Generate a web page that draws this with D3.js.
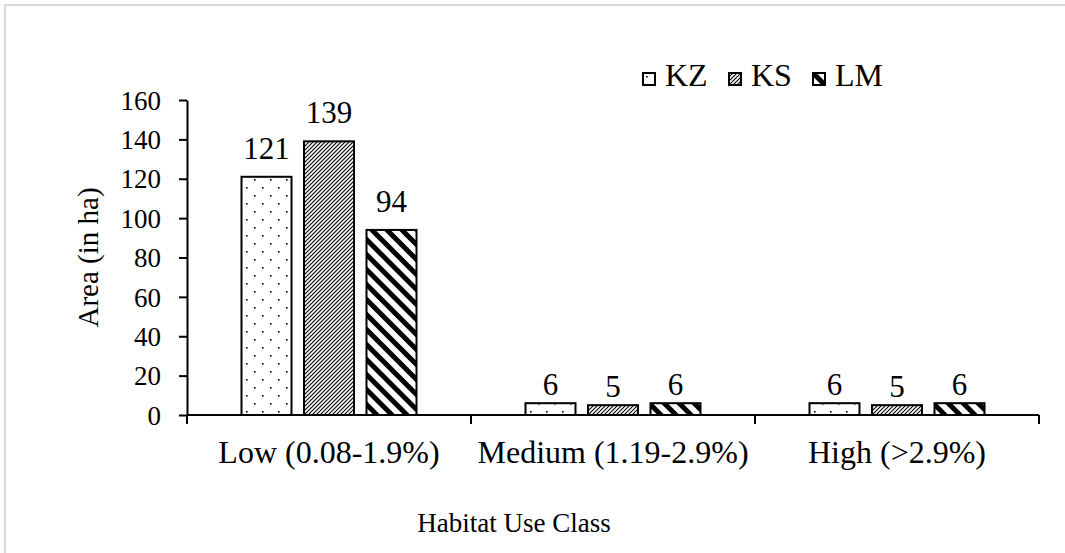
<!DOCTYPE html>
<html>
<head>
<meta charset="utf-8">
<script src="https://cdn.jsdelivr.net/npm/d3@7"></script>
<style>
  html, body { margin: 0; padding: 0; background: #fff; }
  svg { display: block; }
  svg text { font-family: "Liberation Serif", "DejaVu Serif", serif; fill: #000; }
</style>
</head>
<body>
<svg id="chart" width="1065" height="553"></svg>
<script>
// Habitat use classes and area (ha) per site
const categories = ["Low (0.08-1.9%)", "Medium (1.19-2.9%)", "High (>2.9%)"];
const seriesNames = ["KZ", "KS", "LM"];
const valuesKZ = [121, 6, 6];
const valuesKS = [139, 5, 5];
const valuesLM = [94, 6, 6];
const yTicks = [0, 20, 40, 60, 80, 100, 120, 140, 160];

const seriesValues = [valuesKZ, valuesKS, valuesLM];
const W = 1065, H = 553;
const margin = { left: 187, right: 26, top: 100, bottom: 138 };
const FONT = "'Liberation Serif', 'DejaVu Serif', serif";

const svg = d3.select("#chart");

// outer frame
svg.append("rect")
  .attr("x", 5).attr("y", 5)
  .attr("width", W + 10).attr("height", H + 10)
  .attr("fill", "#fff")
  .attr("stroke", "#d9d9d9").attr("stroke-width", 2);

// fill patterns for the three series
const defs = svg.append("defs");
const pDots = defs.append("pattern").attr("id", "pat-KZ")
  .attr("patternUnits", "userSpaceOnUse").attr("width", 16).attr("height", 16);
pDots.append("rect").attr("width", 16).attr("height", 16).attr("fill", "#fff");
pDots.append("rect").attr("x", 3).attr("y", 3).attr("width", 1.6).attr("height", 1.6).attr("fill", "#000");
pDots.append("rect").attr("x", 11).attr("y", 11).attr("width", 1.6).attr("height", 1.6).attr("fill", "#000");

const pUp = defs.append("pattern").attr("id", "pat-KS")
  .attr("patternUnits", "userSpaceOnUse").attr("width", 4).attr("height", 4);
pUp.append("rect").attr("width", 4).attr("height", 4).attr("fill", "#fff");
pUp.append("path").attr("d", "M-1,1 L1,-1 M0,4 L4,0 M3,5 L5,3")
  .attr("stroke", "#000").attr("stroke-width", 1.1);

const pDown = defs.append("pattern").attr("id", "pat-LM")
  .attr("patternUnits", "userSpaceOnUse").attr("width", 15).attr("height", 15);
pDown.append("rect").attr("width", 15).attr("height", 15).attr("fill", "#fff");
pDown.append("path").attr("d", "M-4,-4 L19,19 M-4,11 L4,19 M11,-4 L19,4")
  .attr("stroke", "#000").attr("stroke-width", 5);

const x0 = d3.scaleBand().domain(categories)
  .range([margin.left, W - margin.right]);
const x1 = d3.scaleBand().domain(seriesNames)
  .range([0, x0.bandwidth()]).paddingInner(0.2).paddingOuter(0.872);
const y = d3.scaleLinear().domain([0, 160])
  .range([H - margin.bottom, margin.top]);

// bars
const groups = svg.append("g").selectAll("g")
  .data(categories).join("g")
  .attr("transform", d => `translate(${x0(d)},0)`);

groups.selectAll("rect")
  .data((c, ci) => seriesNames.map((s, si) => ({ s, v: seriesValues[si][ci] })))
  .join("rect")
  .attr("x", d => x1(d.s))
  .attr("y", d => y(d.v))
  .attr("width", x1.bandwidth())
  .attr("height", d => y(0) - y(d.v))
  .attr("fill", d => `url(#pat-${d.s})`)
  .attr("stroke", "#000").attr("stroke-width", 2);

// value labels
groups.selectAll("text.val")
  .data((c, ci) => seriesNames.map((s, si) => ({ s, v: seriesValues[si][ci] })))
  .join("text").attr("class", "val")
  .attr("x", d => x1(d.s) + x1.bandwidth() / 2)
  .attr("y", d => y(d.v) - (d.v > 50 ? 18 : 8))
  .attr("text-anchor", "middle")
  .style("font-family", FONT).style("font-size", "31px")
  .text(d => d.v);

// y axis
const yAxis = svg.append("g")
  .attr("transform", `translate(${margin.left},0)`)
  .call(d3.axisLeft(y).tickValues(yTicks).tickSize(8).tickPadding(18).tickSizeOuter(0));
yAxis.attr("font-family", null).attr("font-size", null);
yAxis.select(".domain").attr("stroke", "#000").attr("stroke-width", 2);
yAxis.selectAll(".tick line").attr("stroke", "#000").attr("stroke-width", 2);
yAxis.selectAll(".tick text")
  .style("font-family", FONT).style("font-size", "27px")
  .attr("dy", "0.34em");

// x axis: baseline with ticks at category boundaries
const xg = svg.append("g");
xg.append("line")
  .attr("x1", margin.left).attr("x2", W - margin.right)
  .attr("y1", y(0)).attr("y2", y(0))
  .attr("stroke", "#000").attr("stroke-width", 2);
const bounds = categories.map(c => x0(c)).concat([x0(categories[categories.length - 1]) + x0.bandwidth()]);
xg.selectAll("line.tk").data(bounds).join("line").attr("class", "tk")
  .attr("x1", d => d).attr("x2", d => d)
  .attr("y1", y(0)).attr("y2", y(0) + 9)
  .attr("stroke", "#000").attr("stroke-width", 2);
xg.selectAll("text").data(categories).join("text")
  .attr("x", d => x0(d) + x0.bandwidth() / 2)
  .attr("y", y(0) + 48)
  .attr("text-anchor", "middle")
  .style("font-family", FONT).style("font-size", "32px")
  .text(d => d);

// axis titles
svg.append("text")
  .attr("transform", `translate(98,${(y(0) + y(160)) / 2}) rotate(-90)`)
  .attr("text-anchor", "middle")
  .style("font-family", FONT).style("font-size", "29px")
  .text("Area (in ha)");
svg.append("text")
  .attr("x", 514).attr("y", 532)
  .attr("text-anchor", "middle")
  .style("font-family", FONT).style("font-size", "27px")
  .text("Habitat Use Class");

// legend
const legendX = [643, 729, 813];
const lg = svg.append("g").selectAll("g").data(seriesNames).join("g")
  .attr("transform", (d, i) => `translate(${legendX[i]},73)`);
lg.append("rect")
  .attr("width", 12).attr("height", 12)
  .attr("fill", d => `url(#pat-${d})`)
  .attr("stroke", "#000").attr("stroke-width", 2);
lg.append("text")
  .attr("x", 22).attr("y", 13)
  .style("font-family", FONT).style("font-size", "32px")
  .text(d => d);
</script>
</body>
</html>
